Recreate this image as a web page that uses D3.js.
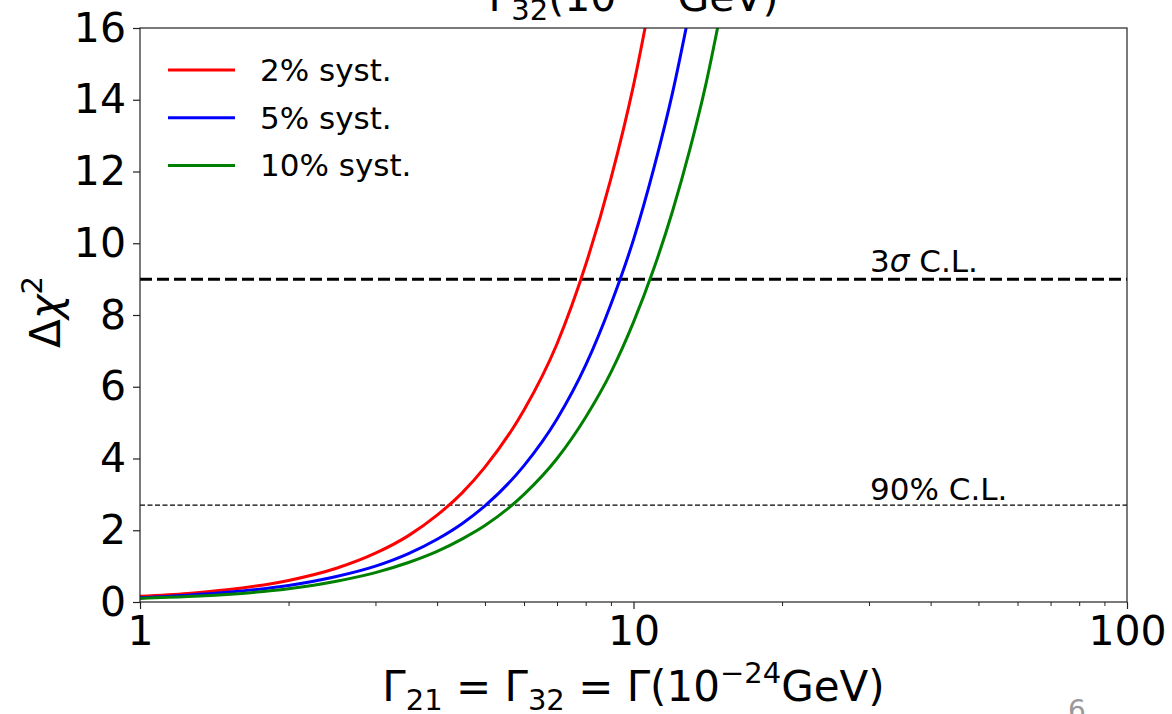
<!DOCTYPE html>
<html>
<head>
<meta charset="utf-8">
<script src="https://cdn.jsdelivr.net/npm/d3@7/dist/d3.min.js"></script>
<style>
  html, body { margin: 0; padding: 0; background: #fff; }
  svg { display: block; font-family: "DejaVu Sans", sans-serif; }
</style>
</head>
<body>
<svg id="chart" width="1172" height="714"></svg>
<script>
// Decay width Γ in units of 1e-24 GeV
const gammaRed   = [1, 1.25, 1.5, 2, 2.5, 3, 3.5, 4, 4.5, 5, 6, 7, 8, 9, 10, 11];
const chi2Red    = [0.16, 0.24, 0.34, 0.60, 0.94, 1.36, 1.85, 2.42, 3.05, 3.76, 5.35, 7.2, 9.4, 11.8, 14.4, 17.3];

const gammaBlue  = [1, 1.25, 1.5, 2, 2.5, 3, 3.5, 4, 4.5, 5, 6, 7, 8, 9, 10, 11, 12, 13];
const chi2Blue   = [0.12, 0.19, 0.27, 0.46, 0.71, 1.00, 1.35, 1.75, 2.19, 2.68, 3.80, 5.10, 6.6, 8.3, 10.1, 12.1, 14.2, 16.5];

const gammaGreen = [1, 1.25, 1.5, 2, 2.5, 3, 3.5, 4, 4.5, 5, 6, 7, 8, 9, 10, 11, 12, 13, 14, 15];
const chi2Green  = [0.10, 0.15, 0.21, 0.37, 0.58, 0.82, 1.10, 1.41, 1.76, 2.13, 3.00, 4.00, 5.15, 6.4, 7.8, 9.3, 10.9, 12.6, 14.4, 16.4];

const seriesNames  = ["2% syst.", "5% syst.", "10% syst."];
const seriesColors = ["#ff0000", "#0000ff", "#008000"];

const clLevels = [9, 2.7];
const clLabels = ["3σ C.L.", "90% C.L."];

const xTicks = [1, 10, 100];
const xMinorTicks = [2, 3, 4, 5, 6, 7, 8, 9, 20, 30, 40, 50, 60, 70, 80, 90];
const yTicks = [0, 2, 4, 6, 8, 10, 12, 14, 16];

const svg = d3.select("#chart");
const plotLeft = 140, plotRight = 1127, plotTop = 28, plotBottom = 602;

const x = d3.scaleLog().domain([1, 100]).range([plotLeft, plotRight]);
const y = d3.scaleLinear().domain([0, 16]).range([plotBottom, plotTop]);

svg.append("defs").append("clipPath").attr("id", "plotArea")
  .append("rect").attr("x", plotLeft).attr("y", plotTop)
  .attr("width", plotRight - plotLeft).attr("height", plotBottom - plotTop);

// Confidence-level reference lines
const clGroup = svg.append("g").attr("clip-path", "url(#plotArea)");
clGroup.append("line")
  .attr("x1", plotLeft).attr("x2", plotRight)
  .attr("y1", y(clLevels[0])).attr("y2", y(clLevels[0]))
  .attr("stroke", "#000").attr("stroke-width", 3)
  .attr("stroke-dasharray", "12,5");
clGroup.append("line")
  .attr("x1", plotLeft).attr("x2", plotRight)
  .attr("y1", y(clLevels[1])).attr("y2", y(clLevels[1]))
  .attr("stroke", "#000").attr("stroke-width", 1.2)
  .attr("stroke-dasharray", "5,2.5");

svg.append("text").attr("x", 870).attr("y", y(clLevels[0]) - 7)
  .attr("font-size", 31).attr("fill", "#000")
  .html('3<tspan font-style="italic">σ</tspan> C.L.');
svg.append("text").attr("x", 870).attr("y", y(clLevels[1]) - 5)
  .attr("font-size", 31).attr("fill", "#000")
  .text(clLabels[1]);

// Δχ² curves
const series = [
  { g: gammaRed, v: chi2Red },
  { g: gammaBlue, v: chi2Blue },
  { g: gammaGreen, v: chi2Green }
];
const line = d3.line()
  .x(d => x(d[0])).y(d => y(d[1]))
  .curve(d3.curveMonotoneX);
const curveGroup = svg.append("g").attr("clip-path", "url(#plotArea)");
series.forEach((s, i) => {
  curveGroup.append("path")
    .datum(s.g.map((g, j) => [g, s.v[j]]))
    .attr("d", line)
    .attr("fill", "none")
    .attr("stroke", seriesColors[i])
    .attr("stroke-width", 3);
});

// Frame
svg.append("rect").attr("x", plotLeft).attr("y", plotTop)
  .attr("width", plotRight - plotLeft).attr("height", plotBottom - plotTop)
  .attr("fill", "none").attr("stroke", "#222").attr("stroke-width", 1.2);

// X axis: major and minor ticks
const xAxis = svg.append("g").attr("transform", `translate(0,${plotBottom})`)
  .call(d3.axisBottom(x).tickValues(xTicks).tickSize(7).tickPadding(6)
        .tickFormat(d3.format("d")));
xAxis.select(".domain").remove();
xAxis.selectAll(".tick line").attr("stroke", "#222").attr("stroke-width", 1.2);
xAxis.selectAll(".tick text").attr("font-size", 41).attr("fill", "#000")
  .attr("font-family", "DejaVu Sans").attr("dy", "0.72em");

const xMinor = svg.append("g").attr("transform", `translate(0,${plotBottom})`)
  .call(d3.axisBottom(x).tickValues(xMinorTicks).tickSize(4).tickFormat(""));
xMinor.select(".domain").remove();
xMinor.selectAll(".tick line").attr("stroke", "#222").attr("stroke-width", 1);

// Y axis
const yAxis = svg.append("g").attr("transform", `translate(${plotLeft},0)`)
  .call(d3.axisLeft(y).tickValues(yTicks).tickSize(7).tickPadding(7));
yAxis.select(".domain").remove();
yAxis.selectAll(".tick line").attr("stroke", "#222").attr("stroke-width", 1.2);
yAxis.selectAll(".tick text").attr("font-size", 41).attr("fill", "#000")
  .attr("font-family", "DejaVu Sans");

// Axis titles
svg.append("text")
  .attr("x", (plotLeft + plotRight) / 2).attr("y", 701)
  .attr("text-anchor", "middle").attr("font-size", 42).attr("fill", "#000")
  .html('Γ<tspan font-size="29" dy="9">21</tspan><tspan dy="-9"> = Γ</tspan><tspan font-size="29" dy="9">32</tspan><tspan dy="-9"> = Γ(10</tspan><tspan font-size="29" dy="-18">−24</tspan><tspan dy="18">GeV)</tspan>');

svg.append("text")
  .attr("transform", "translate(60,312) rotate(-90)")
  .attr("text-anchor", "middle").attr("font-size", 42).attr("fill", "#000")
  .html('Δ<tspan font-style="italic">χ</tspan><tspan font-size="29" dy="-18">2</tspan>');

// Title of the panel above, partly cut off at the top edge
svg.append("text")
  .attr("x", (plotLeft + plotRight) / 2).attr("y", 11)
  .attr("text-anchor", "middle").attr("font-size", 41).attr("fill", "#000")
  .html('Γ<tspan font-size="29" dy="9">32</tspan><tspan dy="-9">(10</tspan><tspan font-size="29" dy="-18">−24</tspan><tspan dy="18">GeV)</tspan>');

// Legend
const legend = svg.append("g");
seriesNames.forEach((name, i) => {
  const ly = 70 + i * 47.7;
  legend.append("line")
    .attr("x1", 168).attr("x2", 235).attr("y1", ly).attr("y2", ly)
    .attr("stroke", seriesColors[i]).attr("stroke-width", 3);
  legend.append("text")
    .attr("x", 260).attr("y", ly + 11)
    .attr("font-size", 31).attr("fill", "#000")
    .text(name);
});

// Slide page number
svg.append("text")
  .attr("x", 1077).attr("y", 720)
  .attr("text-anchor", "middle").attr("font-size", 28).attr("fill", "#999")
  .text("6");
</script>
</body>
</html>
